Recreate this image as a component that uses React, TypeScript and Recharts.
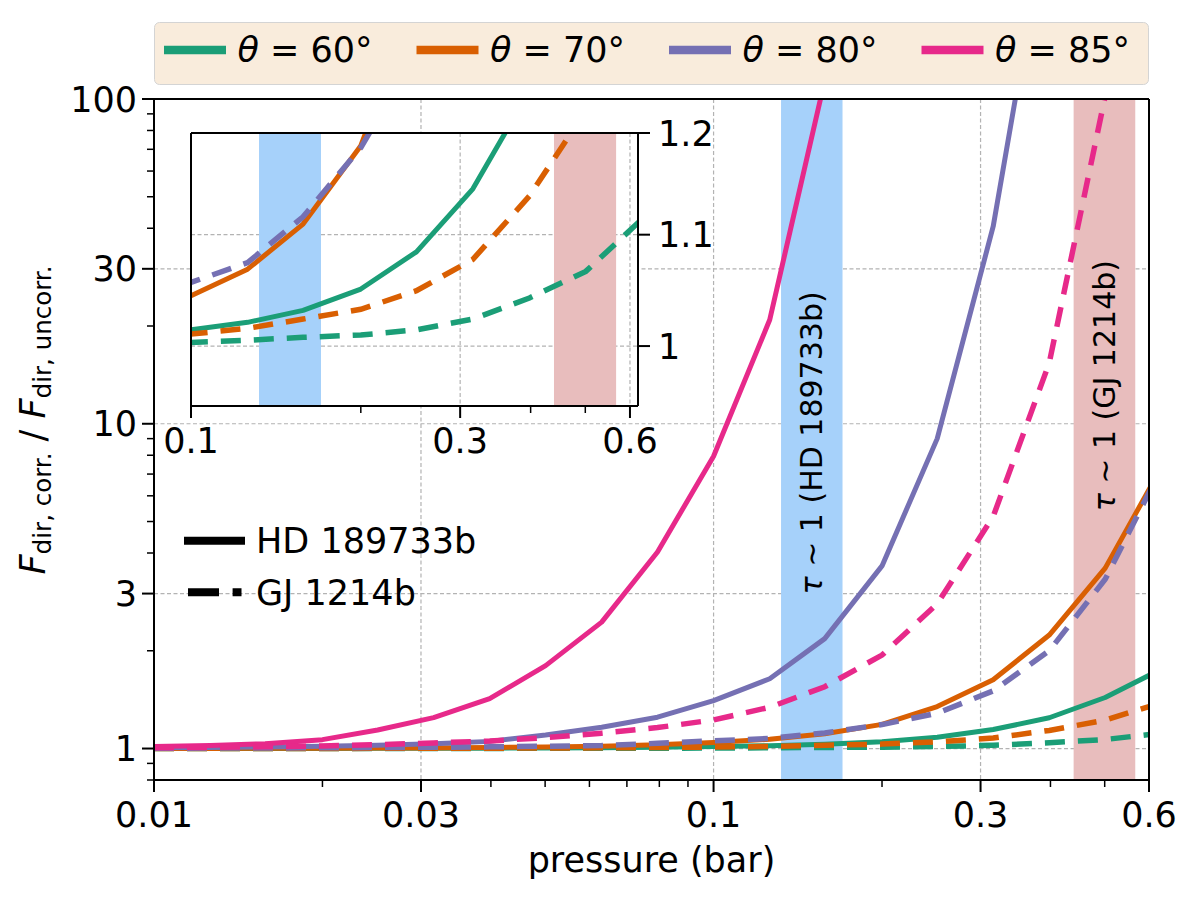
import React from 'react';
import { LineChart, Line, XAxis, YAxis, CartesianGrid, ReferenceArea, Legend } from 'recharts';

// pressure grid (bar), 0.1 dex steps
const pressure = [0.01, 0.0126, 0.0158, 0.02, 0.0251, 0.0316, 0.0398, 0.0501, 0.0631, 0.0794, 0.1, 0.126, 0.158, 0.2, 0.251, 0.316, 0.398, 0.501, 0.631];

// HD 189733b (solid)
const hd60 = [1.0003, 1.0004, 1.0005, 1.0008, 1.0012, 1.0018, 1.0027, 1.004, 1.006, 1.009, 1.014, 1.0205, 1.031, 1.05, 1.084, 1.144, 1.244, 1.436, 1.755];
const hd70 = [1.0005, 1.0008, 1.0013, 1.002, 1.003, 1.0045, 1.007, 1.011, 1.017, 1.027, 1.044, 1.068, 1.11, 1.187, 1.347, 1.628, 2.236, 3.594, 7.32];
const hd80 = [1.005, 1.007, 1.011, 1.016, 1.024, 1.035, 1.052, 1.1, 1.163, 1.249, 1.405, 1.64, 2.18, 3.65, 9.0, 40.5, 400, 3000, 20000];
const hd85 = [1.015, 1.022, 1.035, 1.065, 1.14, 1.245, 1.425, 1.8, 2.45, 4.03, 7.94, 20.9, 114, 900, 5000, 20000, 60000, 150000, 300000];

// GJ 1214b (dashed)
const gj60 = [1.0002, 1.0002, 1.0003, 1.0004, 1.0005, 1.0007, 1.001, 1.0013, 1.0018, 1.0024, 1.003, 1.005, 1.0075, 1.0095, 1.014, 1.0234, 1.042, 1.066, 1.115];
const gj70 = [1.0002, 1.0003, 1.0005, 1.0008, 1.0012, 1.0018, 1.0025, 1.0035, 1.005, 1.007, 1.0103, 1.0153, 1.0234, 1.032, 1.0485, 1.077, 1.137, 1.223, 1.383];
const gj80 = [1.002, 1.003, 1.004, 1.005, 1.007, 1.009, 1.012, 1.016, 1.021, 1.038, 1.056, 1.074, 1.117, 1.185, 1.285, 1.505, 2.0, 3.32, 7.29];
const gj85 = [1.005, 1.008, 1.012, 1.018, 1.028, 1.04, 1.055, 1.08, 1.115, 1.16, 1.225, 1.34, 1.55, 1.94, 2.79, 5.18, 15.4, 102, 900];

const thetas = ['60', '70', '80', '85'];
const colors = ['#1b9e77', '#d95f02', '#7570b3', '#e7298a'];
const hdSeries = [hd60, hd70, hd80, hd85];
const gjSeries = [gj60, gj70, gj80, gj85];

// tau ~ 1 pressure ranges
const hdBand = [0.132, 0.17];
const gjBand = [0.44, 0.567];

const mainXMajor = [0.01, 0.03, 0.1, 0.3, 0.6];
const mainXMinor = [0.02, 0.04, 0.05, 0.06, 0.07, 0.08, 0.09, 0.2, 0.4, 0.5];
const mainYMajor = [1, 3, 10, 30, 100];
const mainYMinor = [0.8, 0.9, 2, 4, 5, 6, 7, 8, 9, 20, 40, 50, 60, 70, 80, 90];
const insetXMajor = [0.1, 0.3, 0.6];
const insetXMinor = [0.2, 0.4, 0.5];
const insetYMajor = [1, 1.1, 1.2];

const data = pressure.map((p, i) => {
  const row: Record<string, number> = { p };
  thetas.forEach((t, j) => {
    row['hd' + t] = hdSeries[j][i];
    row['gj' + t] = gjSeries[j][i];
  });
  return row;
});

const FONT = 'DejaVu Sans, sans-serif';
const FS = 35;
const GRID = '#b3b3b3';

const sortNum = (a: number[]) => [...a].sort((x, y) => x - y);

const bottomTick = (majors: number[]) => (props: any) => {
  const { x, y, payload } = props;
  const major = majors.includes(payload.value);
  return (
    <g>
      <line x1={x} x2={x} y1={y} y2={y + (major ? 12 : 7)} stroke="#000" strokeWidth={major ? 2 : 1.5} />
      {major && (
        <text x={x} y={y + 47} textAnchor="middle" fontSize={FS} fontFamily={FONT} fill="#000">
          {String(payload.value)}
        </text>
      )}
    </g>
  );
};

const leftTick = (majors: number[]) => (props: any) => {
  const { x, y, payload } = props;
  const major = majors.includes(payload.value);
  return (
    <g>
      <line x1={x - (major ? 12 : 7)} x2={x} y1={y} y2={y} stroke="#000" strokeWidth={major ? 2 : 1.5} />
      {major && (
        <text x={x - 17} y={y + 12.5} textAnchor="end" fontSize={FS} fontFamily={FONT} fill="#000">
          {String(payload.value)}
        </text>
      )}
    </g>
  );
};

const rightTick = (props: any) => {
  const { x, y, payload } = props;
  return (
    <g>
      <line x1={x} x2={x + 12} y1={y} y2={y} stroke="#000" strokeWidth={2} />
      <text x={x + 20} y={y + 12.5} textAnchor="start" fontSize={FS} fontFamily={FONT} fill="#000">
        {String(payload.value)}
      </text>
    </g>
  );
};

const bandLabel = (planet: string, frac: number) => (props: any) => {
  const vb = props.viewBox || { x: 0, y: 0, width: 0, height: 0 };
  const cx = vb.x + vb.width / 2;
  const cy = vb.y + vb.height * frac;
  return (
    <text transform={`translate(${cx},${cy}) rotate(-90)`} dy="0.35em" textAnchor="middle" fontSize={30} fontFamily={FONT} fill="#000">
      <tspan fontStyle="italic">τ</tspan>
      {` ∼ 1 (${planet})`}
    </text>
  );
};

const ThetaLegend = () => (
  <svg width={996} height={64} style={{ display: 'block' }}>
    <rect x={0.5} y={0.5} width={994} height={62} rx={5} fill="#f9ecdc" stroke="#d4d4d4" />
    {thetas.map((t, j) => (
      <g key={t} transform={`translate(${10 + j * 252.5},0)`}>
        <line x1={0} x2={62} y1={28} y2={28} stroke={colors[j]} strokeWidth={8.5} />
        <text x={73.5} y={40} fontSize={FS} fontFamily={FONT} fill="#000">
          <tspan fontStyle="italic">θ</tspan>
          {` = ${t}°`}
        </text>
      </g>
    ))}
  </svg>
);

const yLabel = () => (
  <text transform="translate(45,420) rotate(-90)" textAnchor="middle" fontSize={FS} fontFamily={FONT} fill="#000">
    <tspan fontStyle="italic">F</tspan>
    <tspan fontSize={24.5} dy={6}>dir, corr.</tspan>
    <tspan dy={-6}>{'  /  '}</tspan>
    <tspan fontStyle="italic">F</tspan>
    <tspan fontSize={24.5} dy={6}>dir, uncorr.</tspan>
  </text>
);

const xLabel = () => (
  <text x={651.5} y={872} textAnchor="middle" fontSize={FS} fontFamily={FONT} fill="#000">
    pressure (bar)
  </text>
);

const renderLines = () => [
  ...thetas.map((t, j) => (
    <Line
      key={'hd' + t}
      dataKey={'hd' + t}
      stroke={colors[j]}
      strokeWidth={5}
      strokeLinejoin="round"
      dot={false}
      activeDot={false}
      isAnimationActive={false}
    />
  )),
  ...thetas.map((t, j) => (
    <Line
      key={'gj' + t}
      dataKey={'gj' + t}
      stroke={colors[j]}
      strokeWidth={5.5}
      strokeDasharray="20 13"
      dot={false}
      activeDot={false}
      isAnimationActive={false}
    />
  )),
];

const MainChart = () => (
  <LineChart width={1200} height={900} data={data} margin={{ top: 79, right: 31, bottom: 0, left: 0 }}>
    <CartesianGrid
      verticalValues={[0.03, 0.1, 0.3]}
      horizontalValues={[1, 3, 10, 30]}
      stroke={GRID}
      strokeWidth={1.2}
      strokeDasharray="4 2.5"
    />
    <ReferenceArea x1={hdBand[0]} x2={hdBand[1]} fill="#a6d1fa" fillOpacity={1} stroke="none" label={bandLabel('HD 189733b', 0.505)} />
    <ReferenceArea x1={gjBand[0]} x2={gjBand[1]} fill="#e8bdbd" fillOpacity={1} stroke="none" label={bandLabel('GJ 1214b', 0.421)} />
    <XAxis
      dataKey="p"
      type="number"
      scale="log"
      domain={[0.01, 0.6]}
      allowDataOverflow
      ticks={sortNum([...mainXMajor, ...mainXMinor])}
      interval={0}
      height={120}
      tickSize={0}
      tickMargin={0}
      tickLine={false}
      tick={bottomTick(mainXMajor)}
      axisLine={{ stroke: '#000', strokeWidth: 2 }}
      label={xLabel}
    />
    <XAxis
      xAxisId="top"
      orientation="top"
      dataKey="p"
      type="number"
      scale="log"
      domain={[0.01, 0.6]}
      allowDataOverflow
      height={20}
      tick={false}
      tickLine={false}
      axisLine={{ stroke: '#000', strokeWidth: 2 }}
    />
    <YAxis
      type="number"
      scale="log"
      domain={[0.8, 100]}
      allowDataOverflow
      ticks={sortNum([...mainYMajor, ...mainYMinor])}
      interval={0}
      width={154}
      tickSize={0}
      tickMargin={0}
      tickLine={false}
      tick={leftTick(mainYMajor)}
      axisLine={{ stroke: '#000', strokeWidth: 2 }}
      label={yLabel}
    />
    <YAxis
      yAxisId="right"
      orientation="right"
      type="number"
      scale="log"
      domain={[0.8, 100]}
      allowDataOverflow
      width={20}
      tick={false}
      tickLine={false}
      axisLine={{ stroke: '#000', strokeWidth: 2 }}
    />
    {renderLines()}
    <Legend
      layout="horizontal"
      verticalAlign="middle"
      align="center"
      width={996}
      height={64}
      wrapperStyle={{ left: 154, top: 22, width: 996, height: 64 }}
      content={() => <ThetaLegend />}
    />
  </LineChart>
);

const InsetChart = () => (
  <LineChart width={600} height={350} data={data} margin={{ top: 13, right: 0, bottom: 0, left: 31 }}>
    <CartesianGrid
      verticalValues={[0.3, 0.6]}
      horizontalValues={[1, 1.1]}
      stroke={GRID}
      strokeWidth={1.2}
      strokeDasharray="4 2.5"
      fill="#ffffff"
      fillOpacity={1}
    />
    <ReferenceArea x1={hdBand[0]} x2={hdBand[1]} fill="#a6d1fa" fillOpacity={1} stroke="none" />
    <ReferenceArea x1={gjBand[0]} x2={gjBand[1]} fill="#e8bdbd" fillOpacity={1} stroke="none" />
    <XAxis
      dataKey="p"
      type="number"
      scale="log"
      domain={[0.1, 0.62]}
      allowDataOverflow
      ticks={sortNum([...insetXMajor, ...insetXMinor])}
      interval={0}
      height={54}
      tickSize={0}
      tickMargin={0}
      tickLine={false}
      tick={bottomTick(insetXMajor)}
      axisLine={{ stroke: '#000', strokeWidth: 2 }}
    />
    <XAxis
      xAxisId="top"
      orientation="top"
      dataKey="p"
      type="number"
      scale="log"
      domain={[0.1, 0.62]}
      allowDataOverflow
      height={10}
      tick={false}
      tickLine={false}
      axisLine={{ stroke: '#000', strokeWidth: 2 }}
    />
    <YAxis
      orientation="right"
      type="number"
      scale="log"
      domain={[0.95, 1.2]}
      allowDataOverflow
      ticks={insetYMajor}
      interval={0}
      width={112}
      tickSize={0}
      tickMargin={0}
      tickLine={false}
      tick={rightTick}
      axisLine={{ stroke: '#000', strokeWidth: 2 }}
    />
    <YAxis
      yAxisId="left"
      orientation="left"
      type="number"
      scale="log"
      domain={[0.95, 1.2]}
      allowDataOverflow
      width={10}
      tick={false}
      tickLine={false}
      axisLine={{ stroke: '#000', strokeWidth: 2 }}
    />
    {renderLines()}
  </LineChart>
);

const PlanetLegend = () => (
  <svg width={340} height={110} style={{ position: 'absolute', left: 170, top: 510 }}>
    <line x1={14} x2={75} y1={30.7} y2={30.7} stroke="#000" strokeWidth={8} />
    <text x={86} y={43} fontSize={FS} fontFamily={FONT} fill="#000">HD 189733b</text>
    <line x1={18} x2={71.5} y1={82.3} y2={82.3} stroke="#000" strokeWidth={8} strokeDasharray="31 13.6" />
    <text x={86} y={95} fontSize={FS} fontFamily={FONT} fill="#000">GJ 1214b</text>
  </svg>
);

export default function App() {
  return (
    <div style={{ position: 'absolute', left: 0, top: 0, width: 1200, height: 900, background: '#fff', fontFamily: FONT }}>
      <div style={{ position: 'absolute', left: 0, top: 0 }}>
        <MainChart />
      </div>
      <div style={{ position: 'absolute', left: 150, top: 110 }}>
        <InsetChart />
      </div>
      <PlanetLegend />
    </div>
  );
}
